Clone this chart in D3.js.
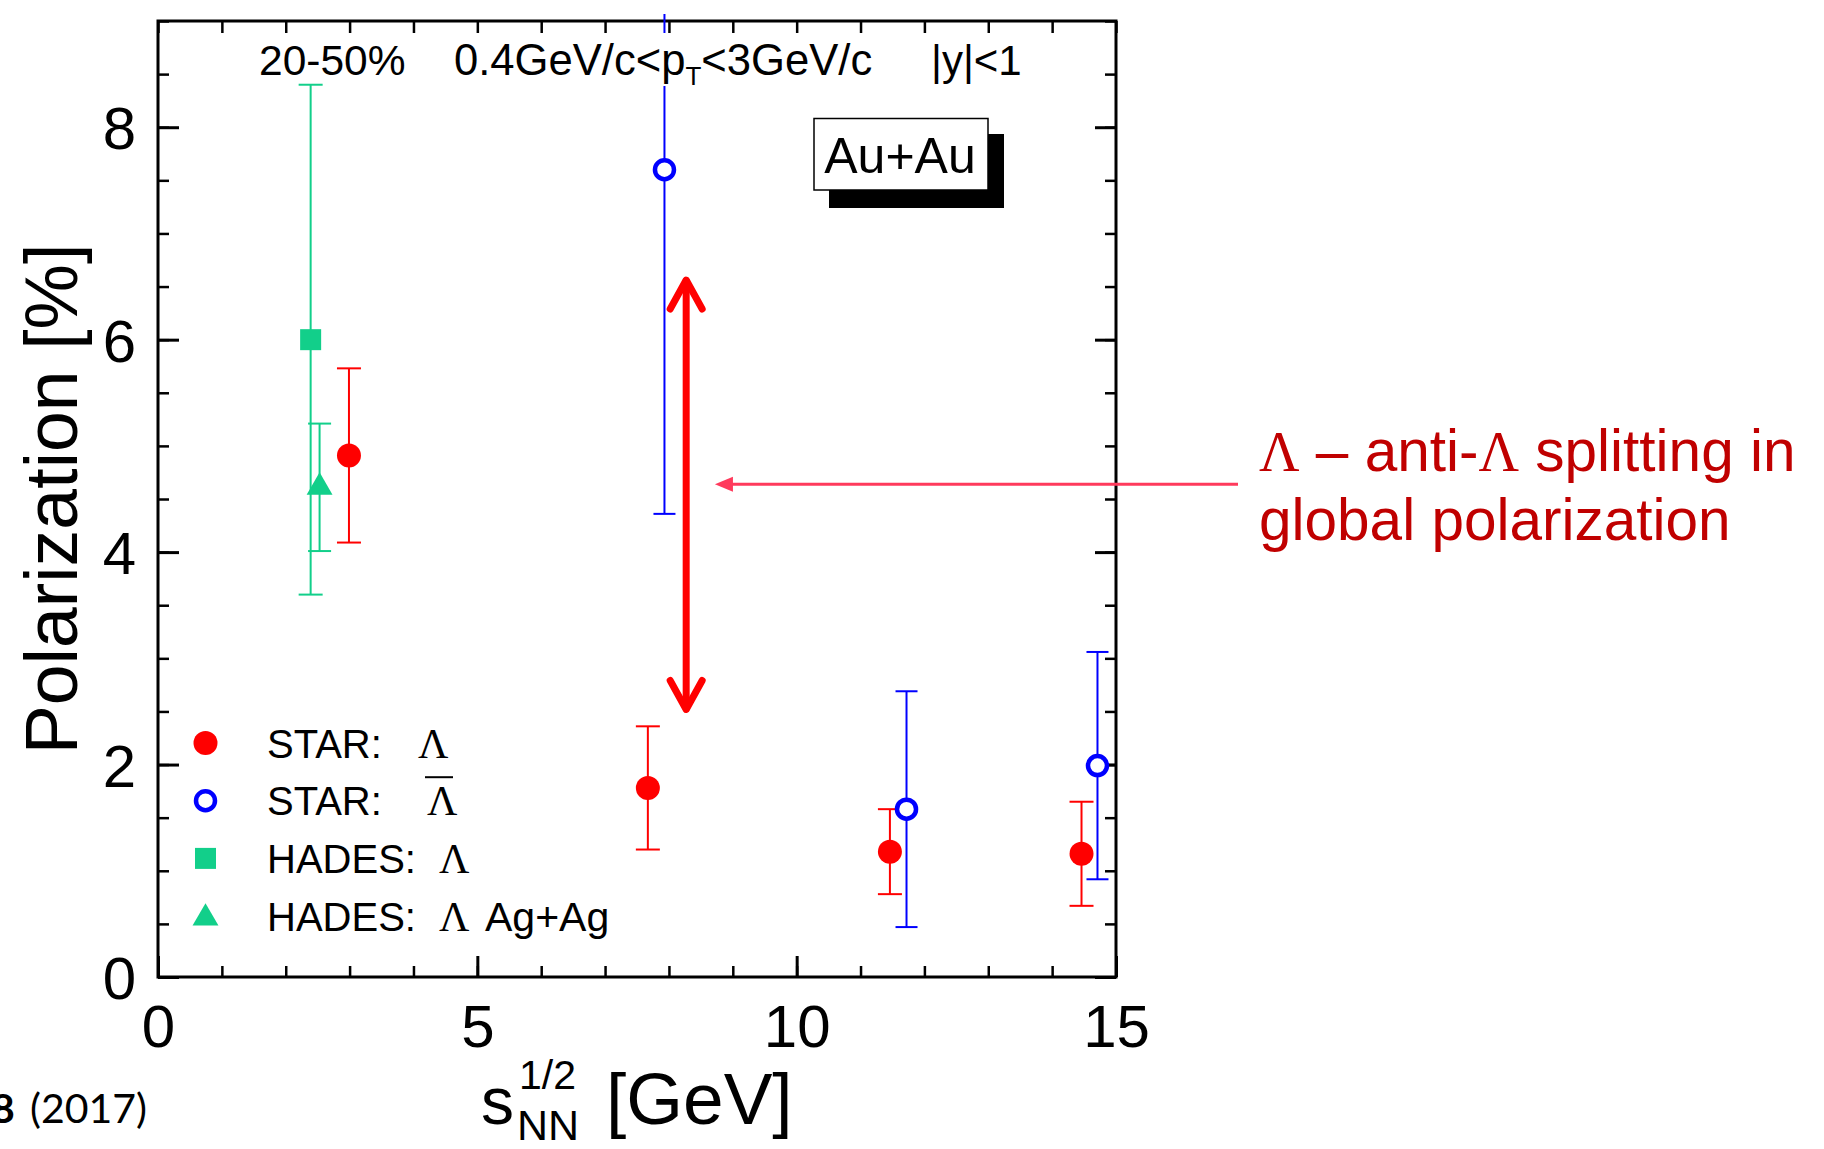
<!DOCTYPE html>
<html>
<head>
<meta charset="utf-8">
<script src="https://cdn.jsdelivr.net/npm/d3@7"></script>
<style>
  body { margin: 0; background: #fff; }
  svg { display: block; }
</style>
</head>
<body>
<svg id="chart" width="1824" height="1149"></svg>
<script>
// Global Λ / anti-Λ polarization versus collision energy (20-50% centrality)
const starLambdaEnergy = [2.99, 7.67, 11.46, 14.46];
const starLambdaPol    = [4.91, 1.78, 1.18, 1.16];
const starLambdaErr    = [0.82, 0.58, 0.40, 0.49];

const starAntiLambdaEnergy = [7.93, 11.72, 14.71];
const starAntiLambdaPol    = [7.60, 1.58, 1.99];
const starAntiLambdaErr    = [3.24, 1.11, 1.07];

const hadesAuAuEnergy = [2.39];
const hadesAuAuPol    = [6.00];
const hadesAuAuErr    = [2.40];

const hadesAgAgEnergy = [2.53];
const hadesAgAgPol    = [4.61];
const hadesAgAgErr    = [0.60];

const xMajorTicks = [0, 5, 10, 15];
const xMinorTicks = d3.range(0, 15.01, 1);
const yMajorTicks = [0, 2, 4, 6, 8];
const yMinorTicks = d3.range(0, 9.01, 0.5);

const legendNames  = ["STAR:", "STAR:", "HADES:", "HADES:"];
const legendSuffix = ["", "", "", "Ag+Ag"];

const RED = "#ff0000", BLUE = "#0000ff", GREEN = "#12cf8a";
const SANS = "'Liberation Sans', Arial, Helvetica, sans-serif";
const SERIF = "'Liberation Serif', 'Times New Roman', serif";

const svg = d3.select("#chart");
const plot = { left: 158, right: 1116, top: 21, bottom: 977 };

const x = d3.scaleLinear().domain([0, 15]).range([plot.left, plot.right]);
const y = d3.scaleLinear().domain([0, 9]).range([plot.bottom, plot.top]);

// ---------- axes (ticks on all four sides, pointing inward) ----------
function styleAxis(g, width) {
  g.select(".domain").remove();
  g.selectAll(".tick line").attr("stroke", "#000").attr("stroke-width", width);
}

svg.append("g").attr("transform", `translate(0,${plot.bottom})`)
  .call(d3.axisBottom(x).tickValues(xMinorTicks).tickSizeInner(-11).tickSizeOuter(0).tickFormat(""))
  .call(g => styleAxis(g, 2.5));
svg.append("g").attr("transform", `translate(0,${plot.bottom})`)
  .call(d3.axisBottom(x).tickValues(xMajorTicks).tickSizeInner(-21).tickSizeOuter(0).tickPadding(27).tickFormat(d3.format("d")))
  .call(g => styleAxis(g, 3))
  .call(g => g.selectAll("text").attr("font-family", SANS).attr("font-size", 60).attr("fill", "#000"));

svg.append("g").attr("transform", `translate(0,${plot.top})`)
  .call(d3.axisTop(x).tickValues(xMinorTicks).tickSizeInner(-12).tickSizeOuter(0).tickFormat(""))
  .call(g => styleAxis(g, 2.5));

svg.append("g").attr("transform", `translate(${plot.left},0)`)
  .call(d3.axisLeft(y).tickValues(yMinorTicks).tickSizeInner(-11).tickSizeOuter(0).tickFormat(""))
  .call(g => styleAxis(g, 2.5));
svg.append("g").attr("transform", `translate(${plot.left},0)`)
  .call(d3.axisLeft(y).tickValues(yMajorTicks).tickSizeInner(-21).tickSizeOuter(0).tickPadding(22).tickFormat(d3.format("d")))
  .call(g => styleAxis(g, 3))
  .call(g => g.selectAll("text").attr("font-family", SANS).attr("font-size", 60).attr("fill", "#000").attr("dy", "0.36em"));

svg.append("g").attr("transform", `translate(${plot.right},0)`)
  .call(d3.axisRight(y).tickValues(yMinorTicks).tickSizeInner(-11).tickSizeOuter(0).tickFormat(""))
  .call(g => styleAxis(g, 2.5));
svg.append("g").attr("transform", `translate(${plot.right},0)`)
  .call(d3.axisRight(y).tickValues(yMajorTicks).tickSizeInner(-21).tickSizeOuter(0).tickFormat(""))
  .call(g => styleAxis(g, 3));

// frame
svg.append("rect")
  .attr("x", plot.left).attr("y", plot.top)
  .attr("width", plot.right - plot.left).attr("height", plot.bottom - plot.top)
  .attr("fill", "none").attr("stroke", "#000").attr("stroke-width", 3);

// ---------- axis titles ----------
svg.append("text")
  .attr("transform", `translate(77,${(plot.top + plot.bottom) / 2}) rotate(-90)`)
  .attr("text-anchor", "middle")
  .attr("font-family", SANS).attr("font-size", 73.5).attr("fill", "#000")
  .text("Polarization [%]");

const xTitle = svg.append("g").attr("font-family", SANS).attr("fill", "#000");
xTitle.append("text").attr("x", 481).attr("y", 1124).attr("font-size", 66).text("s");
xTitle.append("text").attr("x", 519).attr("y", 1089).attr("font-size", 41).text("1/2");
xTitle.append("text").attr("x", 517).attr("y", 1140).attr("font-size", 43).text("NN");
xTitle.append("text").attr("x", 606).attr("y", 1124).attr("font-size", 73).text("[GeV]");

// ---------- data ----------
const defs = svg.append("defs");
defs.append("clipPath").attr("id", "plotClip")
  .append("rect").attr("x", plot.left).attr("y", 14)
  .attr("width", plot.right - plot.left).attr("height", plot.bottom - 14);

const dataLayer = svg.append("g").attr("clip-path", "url(#plotClip)");

function series(ex, ey, ee) {
  return ex.map((e, i) => ({ e, p: ey[i], err: ee[i] }));
}

function errorBars(data, color, capHalf) {
  const g = dataLayer.append("g").attr("stroke", color).attr("stroke-width", 2).attr("fill", "none");
  g.selectAll(".v").data(data).join("line")
    .attr("x1", d => x(d.e)).attr("x2", d => x(d.e))
    .attr("y1", d => y(d.p + d.err)).attr("y2", d => y(d.p - d.err));
  g.selectAll(".t").data(data).join("line")
    .attr("x1", d => x(d.e) - capHalf).attr("x2", d => x(d.e) + capHalf)
    .attr("y1", d => y(d.p + d.err)).attr("y2", d => y(d.p + d.err));
  g.selectAll(".b").data(data).join("line")
    .attr("x1", d => x(d.e) - capHalf).attr("x2", d => x(d.e) + capHalf)
    .attr("y1", d => y(d.p - d.err)).attr("y2", d => y(d.p - d.err));
}

const starL  = series(starLambdaEnergy, starLambdaPol, starLambdaErr);
const starAL = series(starAntiLambdaEnergy, starAntiLambdaPol, starAntiLambdaErr);
const hadesAu = series(hadesAuAuEnergy, hadesAuAuPol, hadesAuAuErr);
const hadesAg = series(hadesAgAgEnergy, hadesAgAgPol, hadesAgAgErr);

errorBars(hadesAu, GREEN, 12);
errorBars(hadesAg, GREEN, 11.5);
errorBars(starL, RED, 12);
errorBars(starAL, BLUE, 11);

const triangle = d3.symbol().type(d3.symbolTriangle).size(290);

dataLayer.append("g").selectAll("rect").data(hadesAu).join("rect")
  .attr("x", d => x(d.e) - 10.5).attr("y", d => y(d.p) - 10.5)
  .attr("width", 21).attr("height", 21).attr("fill", GREEN);
dataLayer.append("g").selectAll("path").data(hadesAg).join("path")
  .attr("transform", d => `translate(${x(d.e)},${y(d.p)})`)
  .attr("d", triangle).attr("fill", GREEN);
dataLayer.append("g").selectAll("circle").data(starL).join("circle")
  .attr("cx", d => x(d.e)).attr("cy", d => y(d.p)).attr("r", 12).attr("fill", RED);
dataLayer.append("g").selectAll("circle").data(starAL).join("circle")
  .attr("cx", d => x(d.e)).attr("cy", d => y(d.p)).attr("r", 9.5)
  .attr("fill", "#fff").attr("stroke", BLUE).attr("stroke-width", 4.5);

// ---------- header line ----------
svg.append("rect").attr("x", 448).attr("y", 33).attr("width", 440).attr("height", 53).attr("fill", "#fff");
const header = svg.append("g").attr("font-family", SANS).attr("font-size", 42).attr("fill", "#000");
header.append("text").attr("x", 259).attr("y", 75).attr("font-size", 42.5).text("20-50%");
const pt = header.append("text").attr("x", 454).attr("y", 75).attr("font-size", 43.6);
pt.append("tspan").text("0.4GeV/c<p");
pt.append("tspan").attr("font-size", 26).attr("dy", 10).text("T");
pt.append("tspan").attr("dy", -10).text("<3GeV/c");
header.append("text").attr("x", 931).attr("y", 75).text("|y|<1");

// ---------- Au+Au box with drop shadow ----------
svg.append("rect").attr("x", 829).attr("y", 134).attr("width", 175).attr("height", 74).attr("fill", "#000");
svg.append("rect").attr("x", 814).attr("y", 118.5).attr("width", 174).attr("height", 71.5)
  .attr("fill", "#fff").attr("stroke", "#000").attr("stroke-width", 1.5);
svg.append("text").attr("x", 900).attr("y", 172.5).attr("text-anchor", "middle")
  .attr("font-family", SANS).attr("font-size", 50).attr("fill", "#000").text("Au+Au");

// ---------- legend ----------
const legend = svg.append("g").attr("font-family", SANS).attr("font-size", 40).attr("fill", "#000");
const rowY = i => 743 + i * 57.7;
const markX = 205.5, labelX = 267;
const lambdaX = [418, 427, 439, 439];

legend.append("circle").attr("cx", markX).attr("cy", rowY(0)).attr("r", 12).attr("fill", RED);
legend.append("circle").attr("cx", markX).attr("cy", rowY(1)).attr("r", 9.5)
  .attr("fill", "#fff").attr("stroke", BLUE).attr("stroke-width", 4.5);
legend.append("rect").attr("x", markX - 10.5).attr("y", rowY(2) - 10.5).attr("width", 21).attr("height", 21).attr("fill", GREEN);
legend.append("path").attr("transform", `translate(${markX},${rowY(3) + 2})`).attr("d", triangle).attr("fill", GREEN);

legendNames.forEach((name, i) => {
  legend.append("text").attr("x", labelX).attr("y", rowY(i) + 14.5).text(name);
  legend.append("text").attr("x", lambdaX[i]).attr("y", rowY(i) + 14.5)
    .attr("font-family", SERIF).attr("font-size", 42).text("Λ");
  if (legendSuffix[i]) {
    legend.append("text").attr("x", 485).attr("y", rowY(i) + 14.5).attr("font-size", 41).text(legendSuffix[i]);
  }
});
// bar over anti-Λ
legend.append("line").attr("x1", 425).attr("x2", 453).attr("y1", rowY(1) - 23.5).attr("y2", rowY(1) - 23.5)
  .attr("stroke", "#000").attr("stroke-width", 2);

// ---------- splitting annotation ----------
const splitX = 8.27, splitLow = 2.50, splitHigh = 6.58;
const arrow = svg.append("g").attr("stroke", RED).attr("stroke-width", 7)
  .attr("stroke-linecap", "round").attr("stroke-linejoin", "round").attr("fill", "none");
arrow.append("line").attr("x1", x(splitX)).attr("x2", x(splitX))
  .attr("y1", y(splitHigh) + 3).attr("y2", y(splitLow) - 3);
arrow.append("polyline").attr("points",
  `${x(splitX) - 16},${y(splitHigh) + 31} ${x(splitX)},${y(splitHigh) + 2} ${x(splitX) + 16},${y(splitHigh) + 31}`);
arrow.append("polyline").attr("points",
  `${x(splitX) - 16},${y(splitLow) - 31} ${x(splitX)},${y(splitLow) - 2} ${x(splitX) + 16},${y(splitLow) - 31}`);

const pointerY = y(4.64), pointerTip = x(8.72), pointerEnd = 1238;
svg.append("line").attr("x1", pointerEnd).attr("x2", pointerTip + 14)
  .attr("y1", pointerY).attr("y2", pointerY)
  .attr("stroke", "#ff3a5c").attr("stroke-width", 3);
svg.append("path")
  .attr("d", `M${pointerTip},${pointerY} L${pointerTip + 18},${pointerY - 7.5} L${pointerTip + 18},${pointerY + 7.5} Z`)
  .attr("fill", "#ff3a5c");

const note = svg.append("g").attr("font-family", SANS).attr("font-size", 58.5).attr("fill", "#c00000");
const line1 = note.append("text").attr("x", 1259).attr("y", 471);
line1.append("tspan").attr("font-family", SERIF).attr("font-size", 56).text("Λ");
line1.append("tspan").text(" – anti-");
line1.append("tspan").attr("font-family", SERIF).attr("font-size", 56).text("Λ");
line1.append("tspan").text(" splitting in");
note.append("text").attr("x", 1259).attr("y", 540).text("global polarization");

// ---------- citation fragment ----------
const cite = svg.append("text").attr("y", 1123).attr("font-family", "Lato, 'Open Sans', sans-serif")
  .attr("font-size", 41).attr("fill", "#000");
cite.append("tspan").attr("x", -9).attr("font-weight", "bold").text("8");
cite.append("tspan").attr("x", 30).text("(2017)");
</script>
</body>
</html>
